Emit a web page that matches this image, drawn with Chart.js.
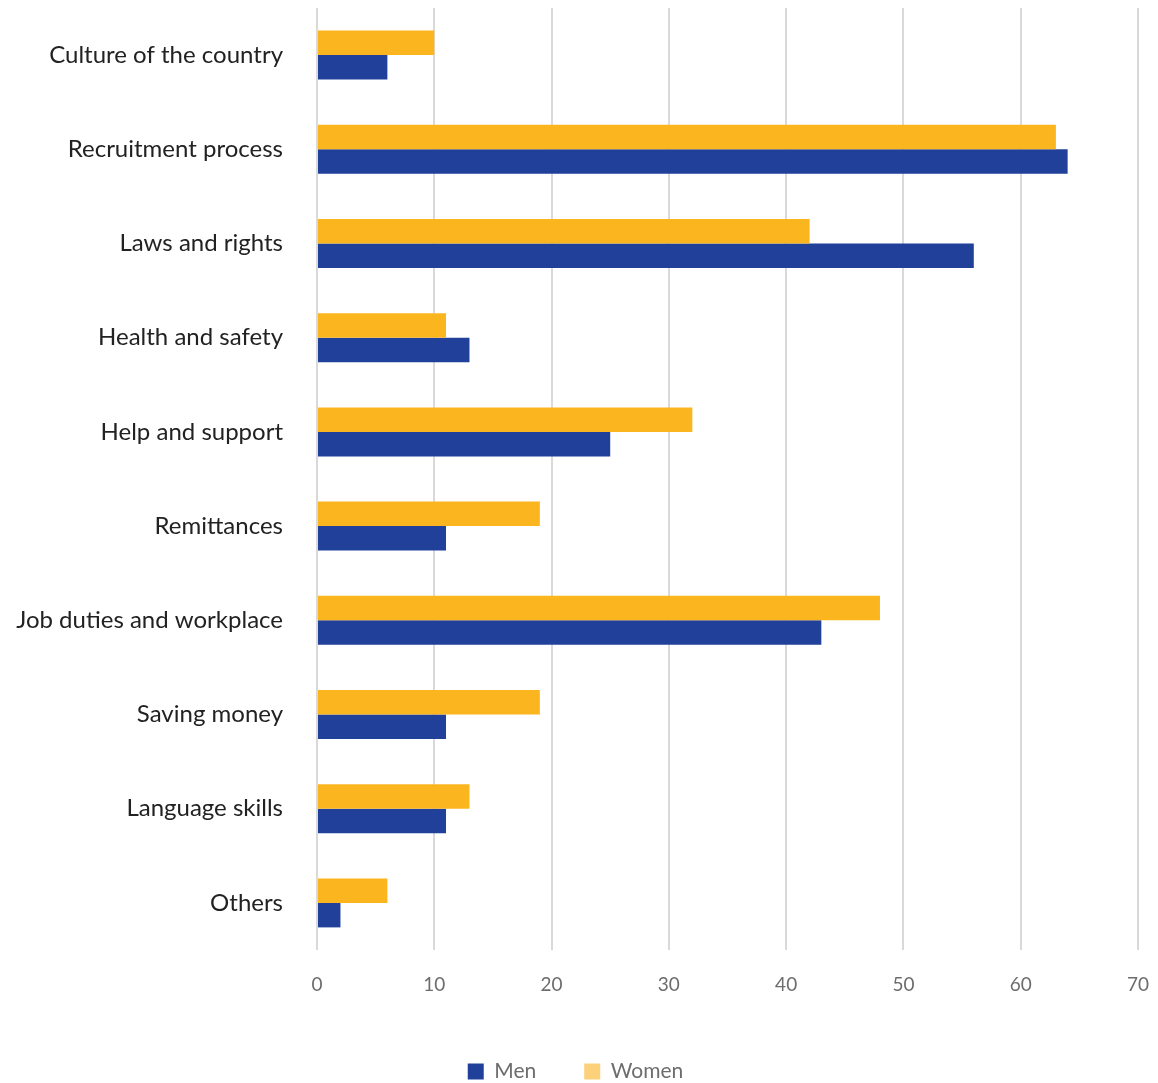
<!DOCTYPE html>
<html lang="en">
<head>
  <meta charset="UTF-8">
  <title>Topics by gender</title>
  <style>
    body { margin: 0; background: #fff; }
    .chart-container { width: 1158px; height: 1083px; position: relative; }
  </style>
  <script src="https://cdn.jsdelivr.net/npm/chart.js"></script>
</head>
<body>
  <div class="chart-container">
    <canvas id="myChart"></canvas>
  </div>

  <script>
    const categories = ['Culture of the country', 'Recruitment process', 'Laws and rights', 'Health and safety',
      'Help and support', 'Remittances', 'Job duties and workplace', 'Saving money', 'Language skills', 'Others'];
    const women = [10, 63, 42, 11, 32, 19, 48, 19, 13, 6];
    const men = [6, 64, 56, 13, 25, 11, 43, 11, 11, 2];
    const xTicks = [0, 10, 20, 30, 40, 50, 60, 70];

    const blue = '#21409a';
    const yellow = '#fbb61f';
    const yellowLegend = '#fdd07a';   // paler swatch in the legend

    const ctx = document.getElementById('myChart').getContext('2d');
    new Chart(ctx, {
      type: 'bar',
      data: {
        labels: categories,
        datasets: [
          { label: 'Women', data: women, backgroundColor: yellow, categoryPercentage: 0.52, barPercentage: 1 },
          { label: 'Men', data: men, backgroundColor: blue, categoryPercentage: 0.52, barPercentage: 1 }
        ]
      },
      options: {
        indexAxis: 'y',
        responsive: true,
        maintainAspectRatio: false,
        animation: false,
        layout: { padding: { top: 8, right: 20, left: 13, bottom: -9 } },
        scales: {
          x: {
            min: 0,
            max: 70,
            afterBuildTicks: axis => { axis.ticks = xTicks.map(v => ({ value: v })); },
            afterFit: axis => {
              axis.height = 63;
              axis.paddingLeft = 0;
              axis.paddingRight = 0;
            },
            grid: { color: '#d9d9d9', lineWidth: 2, drawTicks: false },
            border: { display: false },
            ticks: { color: '#6d6d6d', padding: 23, font: { family: 'Lato', size: 19 } }
          },
          y: {
            // axis box runs from x = 13 to the zero line at x = 317
            afterFit: axis => {
              axis.width = 304;
              axis.paddingTop = 0;
              axis.paddingBottom = 0;
            },
            grid: { display: false, drawTicks: false },
            border: { display: false },
            ticks: { color: '#222', padding: 34, font: { family: 'Lato', size: 24 } }
          }
        },
        plugins: {
          tooltip: { enabled: false },
          legend: {
            position: 'bottom',
            reverse: true,
            labels: {
              color: '#6d6d6d',
              font: { family: 'Lato', size: 21 },
              boxWidth: 16,
              boxHeight: 16,
              padding: 48,
              generateLabels: chart => {
                const items = Chart.defaults.plugins.legend.labels.generateLabels(chart);
                items.forEach(it => {
                  if (it.text === 'Women') it.fillStyle = yellowLegend;
                  it.strokeStyle = 'transparent';
                  it.lineWidth = 0;
                });
                return items;
              }
            }
          }
        }
      }
    });
  </script>
</body>
</html>
